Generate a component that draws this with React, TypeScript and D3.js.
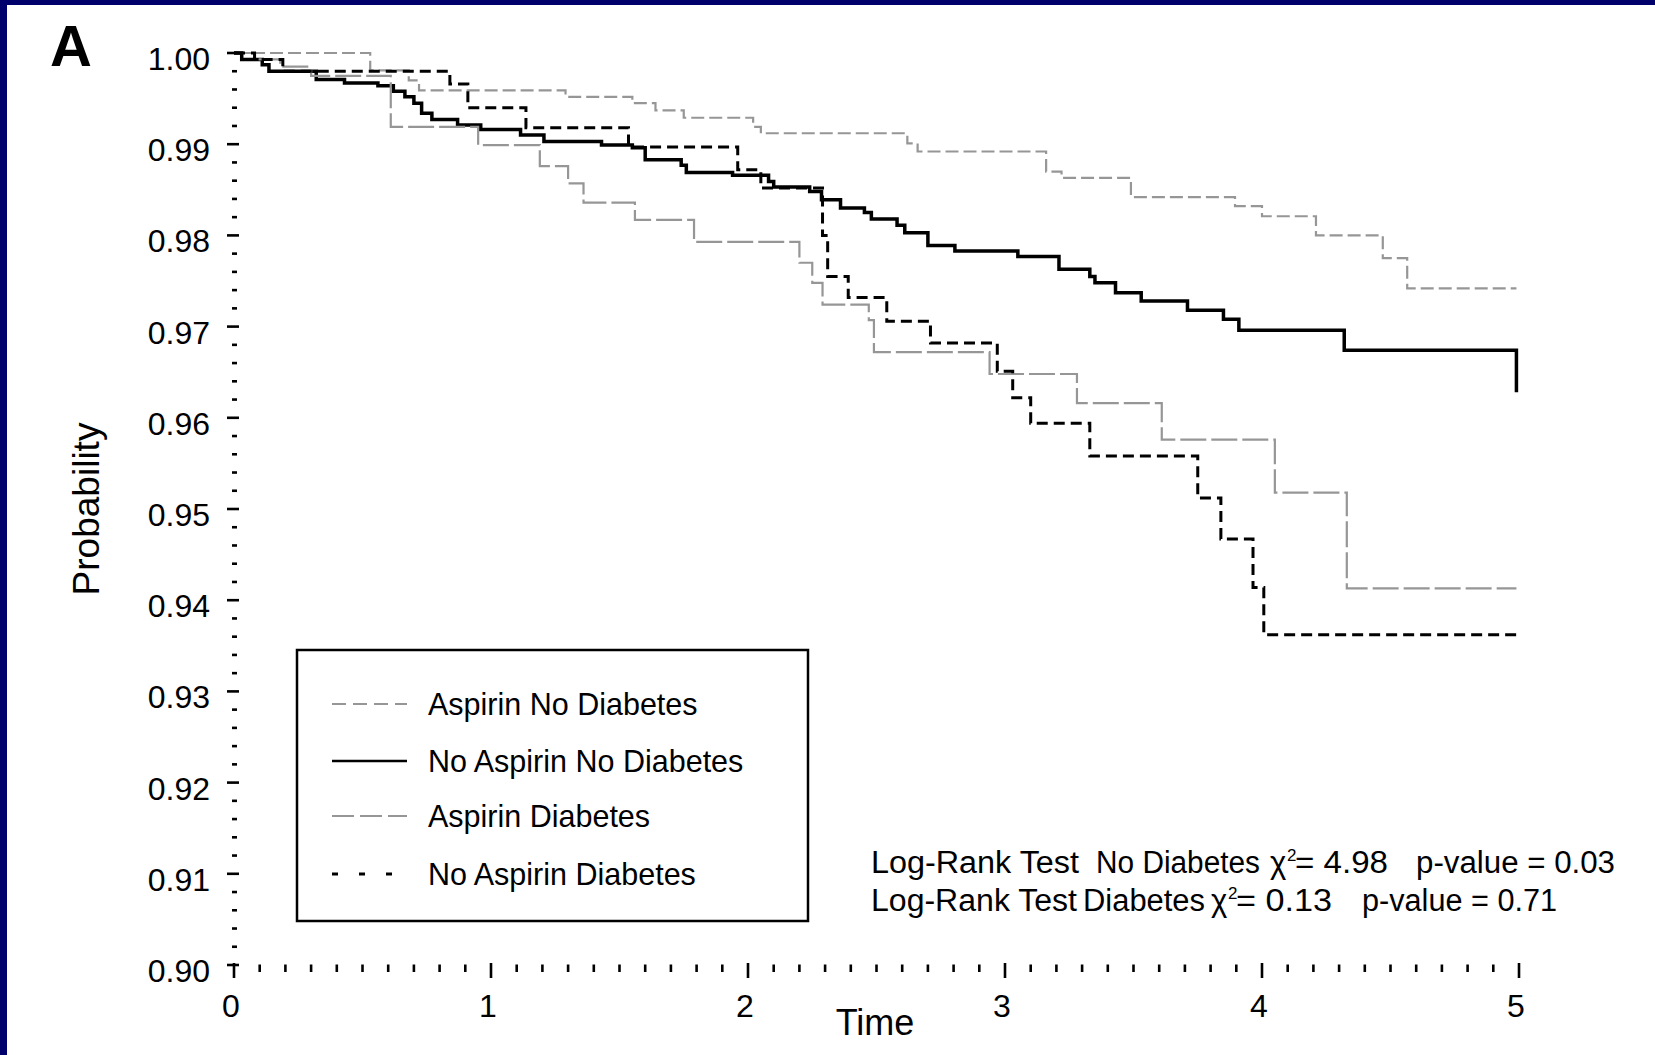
import React from 'react';
import * as d3 from 'd3';

// ---------- data ----------
const xTickLabels = ['0', '1', '2', '3', '4', '5'];
const yTickLabels = ['0.90', '0.91', '0.92', '0.93', '0.94', '0.95', '0.96', '0.97', '0.98', '0.99', '1.00'];
const legendLabels = ['Aspirin No Diabetes', 'No Aspirin No Diabetes', 'Aspirin Diabetes', 'No Aspirin Diabetes'];

const aspNoDiabTime = [0, 0.53, 0.68, 0.72, 1.29, 1.55, 1.64, 1.75, 2.02, 2.05, 2.62, 2.66, 3.16, 3.22, 3.49, 3.895, 4.0, 4.21, 4.47, 4.565, 4.99];
const aspNoDiabSurv = [1.0, 0.9981, 0.997, 0.9959, 0.9952, 0.9945, 0.9937, 0.9929, 0.9919, 0.9912, 0.9901, 0.9892, 0.987, 0.9863, 0.9842, 0.9832, 0.9821, 0.98, 0.9775, 0.9742, 0.9742];

const noAspNoDiabTime = [0, 0.03, 0.11, 0.136, 0.32, 0.43, 0.56, 0.62, 0.665, 0.7, 0.73, 0.77, 0.87, 0.96, 1.115, 1.206, 1.43, 1.55, 1.6, 1.74, 1.76, 1.94, 2.08, 2.1, 2.24, 2.286, 2.36, 2.453, 2.48, 2.58, 2.61, 2.7, 2.805, 3.05, 3.21, 3.33, 3.35, 3.43, 3.53, 3.71, 3.85, 3.91, 4.32, 4.99];
const noAspNoDiabSurv = [1.0, 0.9993, 0.9987, 0.998, 0.9971, 0.9967, 0.9964, 0.9958, 0.9952, 0.9945, 0.9934, 0.9927, 0.9921, 0.9916, 0.991, 0.9903, 0.9899, 0.9896, 0.9883, 0.9877, 0.9869, 0.9866, 0.9859, 0.9853, 0.9848, 0.9839, 0.983, 0.9825, 0.9818, 0.9811, 0.9803, 0.9789, 0.9783, 0.9777, 0.9763, 0.9755, 0.9748, 0.9737, 0.9728, 0.9718, 0.9708, 0.9696, 0.9674, 0.9628];

const aspDiabTime = [0, 0.08, 0.18, 0.3, 0.61, 0.95, 1.19, 1.3, 1.36, 1.56, 1.79, 2.2, 2.25, 2.29, 2.47, 2.49, 2.94, 3.28, 3.61, 4.05, 4.33, 4.99];
const aspDiabSurv = [1.0, 0.9993, 0.9985, 0.9975, 0.9919, 0.9899, 0.9876, 0.9857, 0.9836, 0.9817, 0.9793, 0.977, 0.9748, 0.9724, 0.9707, 0.9672, 0.9648, 0.9616, 0.9576, 0.9518, 0.9413, 0.9413];

const noAspDiabTime = [0, 0.08, 0.19, 0.84, 0.91, 1.136, 1.535, 1.96, 2.05, 2.29, 2.31, 2.39, 2.54, 2.71, 2.97, 3.03, 3.1, 3.33, 3.75, 3.84, 3.965, 4.007, 4.99];
const noAspDiabSurv = [1.0, 0.9993, 0.998, 0.9966, 0.994, 0.9918, 0.9897, 0.9872, 0.9852, 0.98, 0.9755, 0.9732, 0.9706, 0.9682, 0.9651, 0.9622, 0.9594, 0.9558, 0.9512, 0.9467, 0.9414, 0.9362, 0.9362];

const FONT = "'Liberation Sans', Arial, Helvetica, sans-serif";

export default function App() {
  const W = 1655;
  const H = 1055;
  const x = d3.scaleLinear().domain([0, 5]).range([234, 1519]);
  const y = d3.scaleLinear().domain([0.9, 1.0]).range([965, 53]);
  const line = d3
    .line<[number, number]>()
    .x((d) => x(d[0]))
    .y((d) => y(d[1]))
    .curve(d3.curveStepAfter);

  const series = [
    { name: legendLabels[0], t: aspNoDiabTime, s: aspNoDiabSurv, stroke: '#969696', width: 2.2, dash: '13 5', legendDash: '14 7' },
    { name: legendLabels[1], t: noAspNoDiabTime, s: noAspNoDiabSurv, stroke: '#000', width: 3.5, dash: null, legendDash: null },
    { name: legendLabels[2], t: aspDiabTime, s: aspDiabSurv, stroke: '#969696', width: 2.2, dash: '26 5', legendDash: '22 6' },
    { name: legendLabels[3], t: noAspDiabTime, s: noAspDiabSurv, stroke: '#000', width: 3, dash: '11 6', legendDash: '6 21' },
  ];

  const yTicks = d3.range(0, 51).map((i) => ({ v: 0.9 + i * 0.002, major: i % 5 === 0 }));
  const xTicks = d3.range(0, 51).map((i) => ({ v: i * 0.1, major: i % 10 === 0 }));

  const legendX1 = 332;
  const legendX2 = 407;
  const legendTextX = 428;
  const legendBaselines = [715, 772, 827, 885];

  return (
    <svg
      width={W}
      height={H}
      viewBox={`0 0 ${W} ${H}`}
      style={{ position: 'fixed', left: 0, top: 0, display: 'block' }}
      fontFamily={FONT}
    >
      <rect x={0} y={0} width={W} height={H} fill="#fff" />
      <rect x={0} y={0} width={W} height={5} fill="#00006c" />
      <rect x={0} y={0} width={7} height={H} fill="#00006c" />

      {/* panel letter */}
      <text x={50} y={66} fontSize={58} fontWeight="bold" fill="#000">A</text>

      {/* y axis ticks */}
      {yTicks.map((tk, i) => (
        <line
          key={'yt' + i}
          x1={tk.major ? 227 : 232}
          x2={tk.major ? 239 : 237}
          y1={y(tk.v)}
          y2={y(tk.v)}
          stroke="#000"
          strokeWidth={2.6}
        />
      ))}
      {yTickLabels.map((lab, i) => (
        <text key={'yl' + i} x={210} y={y(0.9 + i * 0.01) + 17} fontSize={32} textAnchor="end" fill="#000">
          {lab}
        </text>
      ))}

      {/* x axis ticks */}
      {xTicks.map((tk, i) => (
        <line
          key={'xt' + i}
          x1={x(tk.v)}
          x2={x(tk.v)}
          y1={tk.major ? 963 : 964.5}
          y2={tk.major ? 978 : 972}
          stroke="#000"
          strokeWidth={2.6}
        />
      ))}
      {xTickLabels.map((lab, i) => (
        <text key={'xl' + i} x={x(i) - 3} y={1017} fontSize={32} textAnchor="middle" fill="#000">
          {lab}
        </text>
      ))}

      <text x={875} y={1035} fontSize={36} textAnchor="middle" fill="#000">Time</text>
      <text transform="translate(99,509) rotate(-90)" fontSize={37} textAnchor="middle" fill="#000">Probability</text>

      {/* survival curves */}
      {series.map((sr, i) => (
        <path
          key={'s' + i}
          d={line(sr.t.map((t, j) => [t, sr.s[j]] as [number, number])) || ''}
          fill="none"
          stroke={sr.stroke}
          strokeWidth={sr.width}
          strokeDasharray={sr.dash || undefined}
          strokeLinejoin="miter"
        />
      ))}

      {/* legend */}
      <rect x={297} y={650} width={511} height={271} fill="#fff" stroke="#000" strokeWidth={2.5} />
      {series.map((sr, i) => (
        <g key={'lg' + i}>
          <line
            x1={legendX1}
            x2={legendX2}
            y1={legendBaselines[i] - 11}
            y2={legendBaselines[i] - 11}
            stroke={sr.stroke}
            strokeWidth={i === 1 ? 2.5 : sr.width}
            strokeDasharray={sr.legendDash || undefined}
          />
          <text x={legendTextX} y={legendBaselines[i]} fontSize={30.5} fill="#000">
            {sr.name}
          </text>
        </g>
      ))}

      {/* log-rank annotations */}
      <g fontSize={31} fill="#000">
        <text x={871} y={873} textLength={208} lengthAdjust="spacingAndGlyphs">Log-Rank Test</text>
        <text x={1096} y={873} textLength={164} lengthAdjust="spacingAndGlyphs">No Diabetes</text>
        <text x={1270} y={873}>χ</text>
        <text x={1287} y={861} fontSize={17}>2</text>
        <text x={1295} y={873} textLength={93} lengthAdjust="spacingAndGlyphs">= 4.98</text>
        <text x={1416} y={873} textLength={199} lengthAdjust="spacingAndGlyphs">p-value = 0.03</text>

        <text x={871} y={911} textLength={206} lengthAdjust="spacingAndGlyphs">Log-Rank Test</text>
        <text x={1083} y={911} textLength={122} lengthAdjust="spacingAndGlyphs">Diabetes</text>
        <text x={1211} y={911}>χ</text>
        <text x={1228} y={899} fontSize={17}>2</text>
        <text x={1236} y={911} textLength={96} lengthAdjust="spacingAndGlyphs">= 0.13</text>
        <text x={1362} y={911} textLength={195} lengthAdjust="spacingAndGlyphs">p-value = 0.71</text>
      </g>
    </svg>
  );
}
